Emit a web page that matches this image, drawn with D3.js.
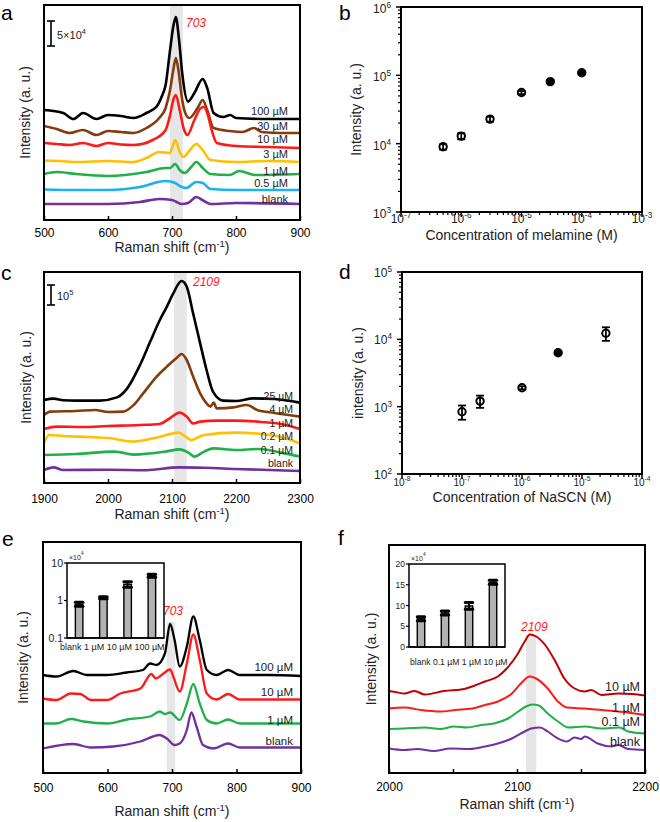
<!DOCTYPE html>
<html>
<head>
<meta charset="utf-8">
<script src="https://d3js.org/d3.v7.min.js"></script>
<style>
  body { margin: 0; background: #fff; }
  text { font-family: "Liberation Sans", Arial, sans-serif; }
</style>
</head>
<body>
<svg width="660" height="822"></svg>
<script>
// ---------- data (intensities in units of 1e4 counts for the spectra) ----------
// panel a : melamine spectra
const aLabels = ["100 µM", "30 µM", "10 µM", "3 µM", "1 µM", "0.5 µM", "blank"];
const a100 = [[500,22],[530,21.4],[546,20.2],[561,21.4],[582,20.2],[600,21],[620,20.8],[640,20.4],[660,21.4],[676,22.7],[684,24.7],[690,27],[697,34],[702,38.7],[706,40.6],[711,36],[716,29.3],[725,23.7],[735,25.4],[748,28.2],[755,26.4],[765,21.4],[780,20.6],[791,21],[800,20.4],[850,20.2],[900,20.2]];
const a30 = [[500,18.8],[520,18.2],[540,17.4],[561,18],[582,17],[600,17.8],[620,17.6],[640,17.4],[660,18.4],[680,20.4],[690,22.4],[697,26],[702,30],[706,32.4],[710,30],[716,24],[722,21],[727,20.4],[740,22.4],[748,24],[755,22],[765,18.4],[790,17.8],[810,17.6],[828,18.4],[840,17.6],[870,17.4],[900,17.4]];
const a10 = [[500,15.4],[520,15.2],[540,15],[561,15.4],[582,14.8],[600,15.4],[620,15.1],[640,15],[670,16],[690,18],[697,21],[702,24],[706,25],[712,22],[718,18.4],[724,17],[735,20],[745,22.4],[750,22.6],[756,21],[762,18],[770,15.4],[800,14.8],[850,14.6],[900,14.4]];
const a3 = [[500,11.9],[525,11.8],[550,11.6],[600,11.8],[640,11.6],[660,12.4],[680,13.6],[697,13.4],[705,16],[712,13.6],[718,12.6],[728,14],[738,15.2],[748,14],[760,12],[800,11.6],[850,11.8],[900,11.6]];
const a1 = [[500,9.2],[520,9.6],[550,9.2],[600,8.8],[660,9.6],[690,10.4],[697,10.4],[705,11.2],[712,10],[720,9.4],[730,10.6],[738,11.6],[748,10.4],[760,9.2],[790,9],[805,9.8],[830,9],[900,9.2]];
const a05 = [[500,6.1],[550,6],[600,6],[650,6.6],[690,7.8],[705,7.4],[712,6.8],[722,6.4],[738,7.6],[748,7.4],[760,6.2],[800,6],[900,6]];
const aBlank = [[500,3.2],[600,3.2],[650,3.6],[680,4.2],[700,4],[715,3.2],[725,3.4],[738,4.6],[750,3.8],[760,3.2],[800,3.4],[900,3.2]];

// panel b : melamine calibration
const bConc = [5e-7, 1e-6, 3e-6, 1e-5, 3e-5, 1e-4];
const bInt = [9.0e3, 1.29e4, 2.29e4, 5.6e4, 8.1e4, 1.09e5];
const bErr = [800, 1300, 1900, 3000, 4000, 5000];

// panel c : NaSCN spectra
const cLabels = ["25 µM", "4 µM", "1 µM", "0.2 µM", "0.1 µM", "blank"];
const c25 = [[1900,41.5],[1915,42.2],[1930,41.4],[1950,41.2],[1987,41.2],[2014,42.8],[2030,47.3],[2050,59],[2066,70.7],[2081,81.5],[2092,88.2],[2102,94.8],[2115,101],[2123,98.2],[2133,84.8],[2144,69.8],[2154,56.5],[2164,45.7],[2180,41.2],[2200,41],[2227,42.3],[2260,42],[2300,40.2]];
const c4 = [[1900,34],[1910,35.7],[1950,36],[1980,36.5],[2000,35.5],[2024,35.7],[2040,39],[2055,44.8],[2076,53.2],[2092,58.2],[2108,62.8],[2115,64.5],[2123,61.5],[2133,53.2],[2144,44.8],[2154,39.8],[2160,38.2],[2165,40.2],[2170,37.3],[2196,37.8],[2217,39],[2233,36.5],[2260,35],[2300,33.2]];
const c1 = [[1900,27],[1920,28.2],[1960,28],[2000,28.5],[2050,29],[2080,29.5],[2095,32],[2112,35.2],[2123,33.2],[2133,29.8],[2144,30.7],[2170,31.2],[2200,31.2],[2240,30.5],[2270,29.5],[2300,27]];
const c02 = [[1900,20],[1908,24],[1930,23.5],[1970,23],[2000,22.5],[2040,20.7],[2080,23],[2110,25.2],[2122,23],[2130,21.5],[2150,24],[2200,25.2],[2240,24.5],[2270,23],[2300,19.8]];
const c01 = [[1900,14],[1950,14.5],[2010,15.7],[2040,14.2],[2090,15.7],[2112,16.8],[2125,15.3],[2135,13.2],[2150,15.7],[2165,17.3],[2200,16.5],[2235,17],[2270,15.2],[2300,13.2]];
const cBlank = [[1900,6.5],[1915,7.8],[1930,6.5],[2000,6.6],[2060,6.4],[2110,7.8],[2150,7.6],[2200,7],[2300,6]];

// panel d : NaSCN calibration
const dConc = [1e-7, 2e-7, 1e-6, 4e-6, 2.5e-5];
const dInt = [840, 1210, 1910, 6320, 12300];
const dErr = [200, 250, 100, 300, 2800];

// panel e : melamine in milk
const eLabels = ["100 µM", "10 µM", "1 µM", "blank"];
const e100 = [[500,19.6],[521,19.3],[547,20.4],[568,19.6],[599,19.6],[630,20.1],[655,20.6],[666,21.9],[676,21.6],[689,23.9],[697,29.8],[704,26.6],[712,21.3],[723,25.3],[733,31.3],[743,26.6],[754,20.6],[769,19.6],[787,20.6],[805,19.6],[850,19.6],[900,19.4]];
const e10 = [[500,14.9],[521,14.6],[543,15.9],[558,15.8],[574,14.6],[599,14.6],[620,15.9],[651,16.9],[668,19.8],[675,18.9],[684,19.6],[697,20.7],[702,19.3],[712,16.3],[723,21.9],[733,27.7],[743,22.6],[754,15.9],[769,14.7],[787,15.8],[805,14.7],[900,14.7]];
const e1 = [[500,9.9],[521,9.9],[543,10.8],[563,10.3],[599,9.9],[630,10.7],[666,11.3],[681,12.3],[689,11.8],[697,12.1],[712,10.6],[723,13.9],[733,17.8],[743,13.9],[754,10.6],[769,9.9],[787,10.7],[805,9.9],[900,9.9]];
const eBlank = [[500,4.9],[547,5.8],[574,5.1],[609,5.3],[651,6.3],[681,7.6],[692,6.9],[704,5.6],[712,5.9],[723,8.6],[730,12.1],[738,9.3],[748,5.6],[764,4.9],[787,5.9],[805,5.1],[900,5.1]];
const eCats = ["blank", "1 µM", "10 µM", "100 µM"];
const eBars = [0.8, 1.19, 2.7, 4.6];      // x10^4
const eBarErr = [0.1, 0.07, 0.45, 0.4];

// panel f : NaSCN in milk
const fLabels = ["10 µM", "1 µM", "0.1 µM", "blank"];
const f10 = [[2000,16.4],[2005,16.2],[2012,15.9],[2020,16.4],[2028,15.7],[2043,16.4],[2059,16.8],[2067,17.5],[2075,18.3],[2085,19.3],[2092,20.9],[2100,23.6],[2106,26.3],[2110,27.7],[2115,27.3],[2122,25.6],[2130,22.3],[2137,18.9],[2145,16.9],[2153,16.3],[2158,16.6],[2166,15.6],[2179,15.9],[2190,15.8],[2200,15.5]];
const f1 = [[2000,12.9],[2012,13.1],[2025,12.6],[2040,12.3],[2052,12.6],[2065,12.9],[2075,13.6],[2085,14.3],[2096,15.9],[2103,17.9],[2110,19.3],[2115,18.9],[2124,16.9],[2132,14.3],[2139,13.1],[2153,12.9],[2166,12.6],[2179,12.3],[2200,11.6]];
const f01 = [[2000,8.8],[2012,8.9],[2028,9.1],[2040,8.8],[2051,9.3],[2061,9.1],[2072,9.6],[2082,9.9],[2093,10.9],[2101,12.3],[2107,13.3],[2112,13.7],[2117,13.5],[2124,11.9],[2132,10.3],[2140,9.1],[2153,9.3],[2166,8.9],[2180,9.1],[2187,8.3],[2200,7.9]];
const fBlank = [[2000,4.9],[2012,4.6],[2022,4.8],[2035,4.4],[2048,4.9],[2063,4.8],[2075,5.3],[2085,5.9],[2096,6.9],[2106,8.3],[2111,8.9],[2118,9.1],[2124,8.3],[2132,6.9],[2139,6.3],[2145,7.1],[2150,6.8],[2153,7.3],[2163,5.9],[2174,5.3],[2179,5.6],[2187,4.8],[2200,4.6]];
const fCats = ["blank", "0.1 µM", "1 µM", "10 µM"];
const fBars = [6.8, 8.2, 9.9, 15.6];      // x10^4
const fBarErr = [0.5, 0.5, 0.8, 0.5];

// ---------- drawing ----------
var svg = d3.select("svg");
var BLACK = "#000", BROWN = "#843c0c", RED = "#ff1a1a", YELLOW = "#ffc000",
    GREEN = "#1fb04a", BLUE = "#1ab2ee", PURPLE = "#7030a0", DARKRED = "#c00000";

// text with a superscript part
function supText(sel, base, sup, tail) {
    sel.append("tspan").text(base);
    sel.append("tspan").attr("dy", -5).attr("font-size", "0.68em").text(sup);
    if (tail) sel.append("tspan").attr("dy", 5).text(tail);
    return sel;
}

function panelLetter(x, y, t) {
    svg.append("text").attr("x", x).attr("y", y).attr("font-size", 21).text(t);
}

function yTitle(x, y, t) {
    svg.append("text").attr("transform", "translate(" + x + "," + y + ") rotate(-90)")
        .attr("text-anchor", "middle").attr("font-size", 14).attr("fill", "#222").text(t);
}

function spectra(p) {
    var x = d3.scaleLinear().domain(p.xDom).range([p.l, p.r]);
    var y = d3.scaleLinear().domain(p.yDom).range([p.b, p.t]);
    var g = svg.append("g");

    // highlighted band
    var bt = p.bandTop || p.t;
    g.append("rect")
        .attr("x", x(p.band[0])).attr("width", x(p.band[1]) - x(p.band[0]))
        .attr("y", bt).attr("height", p.b - bt).attr("fill", "#e6e6e6");

    var line = d3.line().x(d => x(d[0])).y(d => y(d[1])).curve(d3.curveMonotoneX);
    p.series.forEach(function (s, i) {
        g.append("path").attr("d", line(s)).attr("fill", "none")
            .attr("stroke", p.colors[i]).attr("stroke-width", p.lw)
            .attr("stroke-linejoin", "round");
    });

    p.labels.forEach(function (t, i) {
        g.append("text").attr("x", p.labelX).attr("y", p.labelY[i])
            .attr("text-anchor", "end").attr("font-size", p.labelSize).attr("fill", "#222").text(t);
    });

    // peak label
    g.append("text").attr("x", p.peak[1]).attr("y", p.peak[2]).attr("font-size", 12)
        .attr("font-style", "italic").attr("fill", RED).text(p.peak[0]);

    // bottom axis
    var ax = g.append("g").attr("transform", "translate(0," + p.b + ")")
        .call(d3.axisBottom(x).tickValues(p.ticks).tickSizeInner(-4).tickSizeOuter(0)
            .tickPadding(p.pad).tickFormat(d => p.labelTicks.indexOf(d) >= 0 ? d : ""));
    ax.select(".domain").remove();
    ax.attr("font-size", 12);
    ax.selectAll("line").attr("stroke", BLACK).attr("stroke-width", 1.5);

    g.append("rect").attr("x", p.l).attr("y", p.t).attr("width", p.r - p.l).attr("height", p.b - p.t)
        .attr("fill", "none").attr("stroke", BLACK).attr("stroke-width", 2);

    supText(g.append("text").attr("x", (p.l + p.r) / 2).attr("y", p.titleY)
        .attr("text-anchor", "middle").attr("font-size", 14).attr("fill", "#222"),
        "Raman shift (cm", "-1", ")");
    yTitle(p.yTitleX, (p.t + p.b) / 2, "Intensity (a. u.)");

    // scale bar
    if (p.bar) {
        var h = y(0) - y(p.bar.v);
        var sb = g.append("g").attr("stroke", BLACK).attr("stroke-width", 1.6);
        sb.append("line").attr("x1", p.bar.x).attr("x2", p.bar.x).attr("y1", p.bar.y).attr("y2", p.bar.y + h);
        sb.append("line").attr("x1", p.bar.x - 4).attr("x2", p.bar.x + 4).attr("y1", p.bar.y).attr("y2", p.bar.y);
        sb.append("line").attr("x1", p.bar.x - 4).attr("x2", p.bar.x + 4).attr("y1", p.bar.y + h).attr("y2", p.bar.y + h);
        supText(g.append("text").attr("x", p.bar.x + 6).attr("y", p.bar.y + h / 2 + 5)
            .attr("font-size", 11).attr("fill", "#222"), p.bar.base, p.bar.sup);
    }
    return g;
}

function logPanel(p) {
    var x = d3.scaleLog().domain(p.xDom).range([p.l, p.r]);
    var y = d3.scaleLog().domain(p.yDom).range([p.b, p.t]);
    var g = svg.append("g");

    function decades(dom) {
        var lo = Math.round(Math.log10(dom[0])), hi = Math.round(Math.log10(dom[1]));
        var maj = [], min = [];
        for (var e = lo; e <= hi; e++) {
            maj.push(e);
            if (e < hi) for (var k = 2; k <= 9; k++) min.push(k * Math.pow(10, e));
        }
        return { maj: maj, min: min };
    }
    var xd = decades(p.xDom), yd = decades(p.yDom);

    var tk = g.append("g").attr("stroke", BLACK);
    xd.maj.forEach(function (e) {
        var xx = x(Math.pow(10, e));
        tk.append("line").attr("x1", xx).attr("x2", xx).attr("y1", p.b).attr("y2", p.b + 5).attr("stroke-width", 1.5);
        supText(g.append("text").attr("x", xx).attr("y", p.b + p.xLabDy).attr("text-anchor", "middle")
            .attr("font-size", p.xLabSize).attr("fill", "#222"), "10", String(e));
    });
    xd.min.forEach(function (v) {
        tk.append("line").attr("x1", x(v)).attr("x2", x(v)).attr("y1", p.b).attr("y2", p.b + 3).attr("stroke-width", 1.2);
    });
    yd.maj.forEach(function (e) {
        var yy = y(Math.pow(10, e));
        tk.append("line").attr("x1", p.l - 5).attr("x2", p.l).attr("y1", yy).attr("y2", yy).attr("stroke-width", 1.5);
        supText(g.append("text").attr("x", p.l - 10).attr("y", yy + p.yLabDy).attr("text-anchor", "end")
            .attr("font-size", 12).attr("fill", "#222"), "10", String(e));
    });
    yd.min.forEach(function (v) {
        tk.append("line").attr("x1", p.l - 3).attr("x2", p.l).attr("y1", y(v)).attr("y2", y(v)).attr("stroke-width", 1.2);
    });

    g.append("rect").attr("x", p.l).attr("y", p.t).attr("width", p.r - p.l).attr("height", p.b - p.t)
        .attr("fill", "none").attr("stroke", BLACK).attr("stroke-width", 2);

    // points with error bars
    p.xs.forEach(function (c, i) {
        var cx = x(c), v = p.ys[i], e = p.err[i];
        var pt = g.append("g");
        pt.append("circle").attr("cx", cx).attr("cy", y(v)).attr("r", 3.7)
            .attr("fill", p.filled.indexOf(i) >= 0 ? BLACK : "#fff")
            .attr("stroke", BLACK).attr("stroke-width", 2);
        var eb = pt.append("g").attr("stroke", BLACK).attr("stroke-width", 1.8);
        eb.append("line").attr("x1", cx).attr("x2", cx).attr("y1", y(v - e)).attr("y2", y(v + e));
        eb.append("line").attr("x1", cx - 4).attr("x2", cx + 4).attr("y1", y(v - e)).attr("y2", y(v - e));
        eb.append("line").attr("x1", cx - 4).attr("x2", cx + 4).attr("y1", y(v + e)).attr("y2", y(v + e));
    });

    g.append("text").attr("x", (p.l + p.r) / 2).attr("y", p.titleY).attr("text-anchor", "middle")
        .attr("font-size", 14).attr("fill", "#222").text(p.xTitle);
    yTitle(p.yTitleX, (p.t + p.b) / 2, p.yTitleText);
}

function inset(p) {
    var x = d3.scaleBand().domain(p.cats).range([p.l, p.r]).paddingInner(0.69).paddingOuter(0.345);
    var y = (p.log ? d3.scaleLog() : d3.scaleLinear()).domain(p.yDom).range([p.b, p.t]);
    var g = svg.append("g");
    g.append("rect").attr("x", p.l).attr("y", p.t).attr("width", p.r - p.l).attr("height", p.b - p.t)
        .attr("fill", "#fff").attr("stroke", BLACK).attr("stroke-width", 1.5);

    var bw = x.bandwidth();
    p.cats.forEach(function (c, i) {
        var v = p.vals[i], e = p.err[i], xx = x(c);
        g.append("rect").attr("x", xx).attr("y", y(v)).attr("width", bw).attr("height", p.b - y(v))
            .attr("fill", "#b4b1b1").attr("stroke", BLACK).attr("stroke-width", 1.4);
        var eb = g.append("g").attr("stroke", BLACK).attr("stroke-linecap", "round");
        eb.append("line").attr("x1", xx + bw / 2).attr("x2", xx + bw / 2).attr("y1", y(v - e)).attr("y2", y(v + e)).attr("stroke-width", 2);
        eb.append("line").attr("x1", xx).attr("x2", xx + bw).attr("y1", y(v + e)).attr("y2", y(v + e)).attr("stroke-width", 3);
        eb.append("line").attr("x1", xx).attr("x2", xx + bw).attr("y1", y(v - e)).attr("y2", y(v - e)).attr("stroke-width", 3);
    });
    // redraw frame bottom so the bars sit on it
    g.append("line").attr("x1", p.l).attr("x2", p.r).attr("y1", p.b).attr("y2", p.b)
        .attr("stroke", BLACK).attr("stroke-width", 1.5);

    p.ticks.forEach(function (t, i) {
        g.append("line").attr("x1", p.l - 3).attr("x2", p.l).attr("y1", y(t)).attr("y2", y(t))
            .attr("stroke", BLACK).attr("stroke-width", 1.2);
        g.append("text").attr("x", p.l - 4).attr("y", y(t) + p.tickSize * 0.36).attr("text-anchor", "end")
            .attr("font-size", p.tickSize).attr("fill", "#222").text(p.tickText[i]);
    });
    g.append("text").attr("x", p.catX).attr("y", p.b + p.catDy).attr("font-size", p.catSize)
        .attr("fill", "#222").text(p.cats.join(" "));
    supText(g.append("text").attr("x", p.l + 2).attr("y", p.t - 3).attr("font-size", 7).attr("fill", "#222"), "×10", "4");
}

// ----- panel a -----
spectra({
    l: 44, r: 300, t: 5, b: 220, xDom: [500, 900], yDom: [0, 43],
    series: [a100, a30, a10, a3, a1, a05, aBlank],
    colors: [BLACK, BROWN, RED, YELLOW, GREEN, BLUE, PURPLE], lw: 2.6,
    labels: aLabels, labelX: 288, labelY: [115, 130, 143, 157.5, 175, 187, 203], labelSize: 11,
    band: [697, 717], peak: ["703", 186, 27],
    ticks: [500, 600, 700, 800, 900], labelTicks: [500, 600, 700, 800, 900], pad: 8,
    titleY: 252, yTitleX: 30,
    bar: { x: 51, y: 21, v: 5, base: "5×10", sup: "4" }
});
panelLetter(1, 19.5, "a");

// ----- panel b -----
logPanel({
    l: 401, r: 642, t: 7, b: 212, xDom: [1e-7, 1e-3], yDom: [1e3, 1e6],
    xs: bConc, ys: bInt, err: bErr, filled: [4, 5],
    xLabDy: 11, xLabSize: 12, yLabDy: 6,
    xTitle: "Concentration of melamine (M)", titleY: 240,
    yTitleX: 361, yTitleText: "Intensity (a. u.)"
});
panelLetter(339, 19.5, "b");

// ----- panel c -----
spectra({
    l: 44, r: 300, t: 272, b: 483, xDom: [1900, 2300], yDom: [0, 105.5],
    series: [c25, c4, c1, c02, c01, cBlank],
    colors: [BLACK, BROWN, RED, YELLOW, GREEN, PURPLE], lw: 2.6,
    labels: cLabels, labelX: 293, labelY: [400, 412.5, 426.5, 440, 454, 467], labelSize: 10.5,
    band: [2103, 2123], peak: ["2109", 193, 286],
    ticks: [1900, 2000, 2100, 2200, 2300], labelTicks: [1900, 2000, 2100, 2200, 2300], pad: 11,
    titleY: 519, yTitleX: 31,
    bar: { x: 51, y: 285, v: 10, base: "10", sup: "5" }
});
panelLetter(1, 280, "c");

// ----- panel d -----
logPanel({
    l: 402, r: 642, t: 272, b: 474, xDom: [1e-8, 1e-4], yDom: [1e2, 1e5],
    xs: dConc, ys: dInt, err: dErr, filled: [3],
    xLabDy: 12, xLabSize: 10, yLabDy: 5,
    xTitle: "Concentration of NaSCN (M)", titleY: 502,
    yTitleX: 363, yTitleText: "intensity (a. u.)"
});
panelLetter(339, 278.5, "d");

// ----- panel e -----
spectra({
    l: 43, r: 301, t: 542, b: 773, xDom: [500, 900], yDom: [0, 46.2],
    series: [e100, e10, e1, eBlank],
    colors: [BLACK, RED, GREEN, PURPLE], lw: 2.3,
    labels: eLabels, labelX: 293, labelY: [671, 696, 724, 745], labelSize: 11.5,
    band: [692, 705], bandTop: 622, peak: ["703", 163, 615],
    ticks: [500, 600, 700, 800, 900], labelTicks: [500, 600, 700, 800, 900], pad: 10,
    titleY: 816, yTitleX: 28
});
inset({
    l: 67, r: 164, t: 563, b: 638, log: true, yDom: [0.1, 10],
    cats: eCats, vals: eBars, err: eBarErr,
    ticks: [10, 1, 0.1], tickText: ["10", "1", "0.1"], tickSize: 10.5,
    catX: 60, catDy: 12, catSize: 9
});
panelLetter(2, 545.5, "e");

// ----- panel f -----
spectra({
    l: 389, r: 645, t: 545, b: 773, xDom: [2000, 2200], yDom: [0, 45.6],
    series: [f10, f1, f01, fBlank],
    colors: [DARKRED, RED, GREEN, PURPLE], lw: 2,
    labels: fLabels, labelX: 640, labelY: [691, 712, 726, 746], labelSize: 12.5,
    band: [2107, 2115], bandTop: 635, peak: ["2109", 521, 631],
    ticks: [2000, 2050, 2100, 2150, 2200], labelTicks: [2000, 2100, 2200], pad: 9,
    titleY: 809, yTitleX: 376
});
inset({
    l: 409, r: 505, t: 564, b: 647, log: false, yDom: [0, 20],
    cats: fCats, vals: fBars, err: fBarErr,
    ticks: [20, 15, 10, 5, 0], tickText: ["20", "15", "10", "5", "0"], tickSize: 8.5,
    catX: 410, catDy: 18, catSize: 8.6
});
panelLetter(338, 545, "f");
</script>
</body>
</html>
